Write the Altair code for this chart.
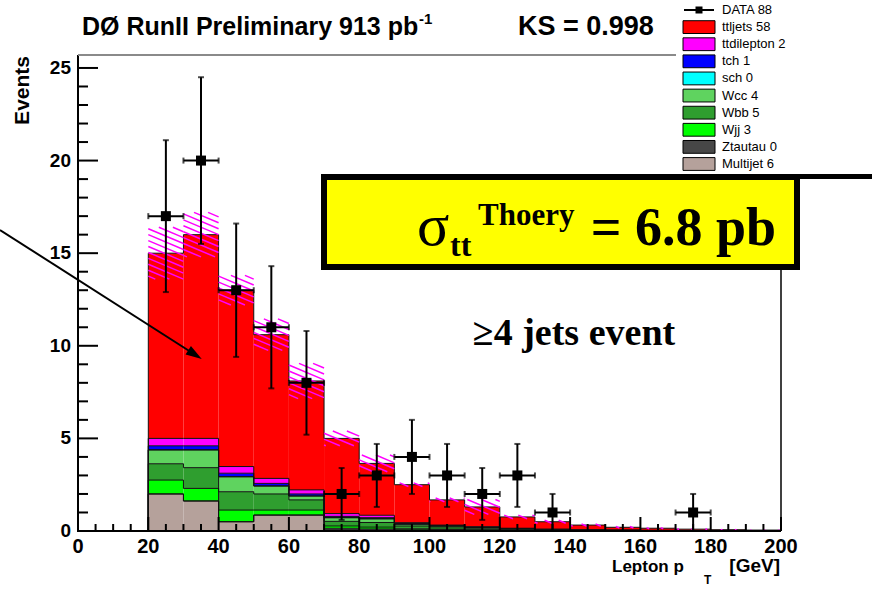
import altair as alt
import pandas as pd
import numpy as np

# ---------------- data ----------------
bin_lo = [20, 30, 40, 50, 60, 70, 80, 90, 100, 110, 120, 130, 140, 150, 160, 170, 180, 190]
bin_width = 10

# stack order: bottom -> top
multijet   = [2.00, 1.62, 0.50, 0.86, 0.86, 0.05, 0.03, 0.02, 0.02, 0.01, 0.01, 0.00, 0, 0, 0, 0, 0, 0]
ztautau    = [0.00, 0.00, 0.00, 0.00, 0.00, 0.10, 0.08, 0.05, 0.05, 0.03, 0.02, 0.01, 0, 0, 0, 0, 0, 0]
wjj        = [0.75, 0.68, 0.63, 0.27, 0.27, 0.12, 0.10, 0.05, 0.03, 0.03, 0.02, 0.01, 0, 0, 0, 0, 0, 0]
wbb        = [0.88, 1.12, 0.99, 0.87, 0.55, 0.25, 0.25, 0.15, 0.12, 0.08, 0.05, 0.04, 0.05, 0.04, 0.03, 0.02, 0.02, 0.01]
wcc        = [0.75, 0.96, 0.81, 0.43, 0.21, 0.20, 0.20, 0.10, 0.05, 0.04, 0.02, 0.02, 0, 0, 0, 0, 0, 0]
sch        = [0.00] * 18
tch        = [0.22, 0.22, 0.19, 0.14, 0.11, 0.07, 0.06, 0.03, 0.02, 0.02, 0.01, 0.01, 0, 0, 0, 0, 0, 0]
ttdilepton = [0.40, 0.40, 0.36, 0.27, 0.22, 0.15, 0.13, 0.05, 0.03, 0.02, 0.02, 0.01, 0, 0, 0, 0, 0, 0]
ttljets    = [10.0, 11.0, 9.52, 7.76, 5.88, 4.06, 2.80, 2.05, 1.36, 1.07, 0.61, 0.40, 0.27, 0.16, 0.12, 0.08, 0.05, 0.04]

band_err = [1.4, 1.2, 0.8, 0.85, 0.95, 0.4, 0.45, 0.1, 0.1, 0.4, 0.1, 0.08, 0.06, 0.04, 0.03, 0.02, 0.02, 0.01]

data_x = [25, 35, 45, 55, 65, 75, 85, 95, 105, 115, 125, 135, 175]
data_y = [17, 20, 13, 11, 8, 2, 3, 4, 3, 2, 3, 1, 1]
data_err = [4.1, 4.5, 3.6, 3.3, 2.8, 1.4, 1.7, 2.0, 1.7, 1.4, 1.7, 1.0, 1.0]

comp_names = ["Multijet", "Ztautau", "Wjj", "Wbb", "Wcc", "sch", "tch", "ttdilepton", "ttljets"]
comp_values = [multijet, ztautau, wjj, wbb, wcc, sch, tch, ttdilepton, ttljets]
comp_colors = ["#b5a19b", "#474747", "#00ff00", "#2f9e2f", "#5fd35f", "#00ffff", "#0000ff", "#ff00ff", "#ff0000"]

legend_labels = ["DATA 88", "ttljets 58", "ttdilepton 2", "tch 1", "sch 0", "Wcc 4",
                 "Wbb 5", "Wjj 3", "Ztautau 0", "Multijet 6"]
legend_comps = [None, "ttljets", "ttdilepton", "tch", "sch", "Wcc", "Wbb", "Wjj", "Ztautau", "Multijet"]

y_ticks_major = [0, 5, 10, 15, 20, 25]
y_tick_labels = ["0", "5", "10", "15", "20", "25"]
x_ticks_major = [0, 20, 40, 60, 80, 100, 120, 140, 160, 180, 200]
x_tick_labels = ["0", "20", "40", "60", "80", "100", "120", "140", "160", "180", "200"]

# ---------------- layout ----------------
OX, OY = 78, 55           # plot origin in the page
W, H = 703, 476
YMAX = 25.7


def px(xabs):
    return xabs - OX


def py(yabs):
    return yabs - OY


xscale = alt.Scale(domain=[0, 200], nice=False, zero=False)
yscale = alt.Scale(domain=[0, YMAX], nice=False, zero=False)
cscale = alt.Scale(domain=comp_names, range=comp_colors)


def X(f):
    return alt.X(f, scale=xscale, axis=None)


def Y(f):
    return alt.Y(f, scale=yscale, axis=None)


# stacked rectangles
rows = []
cum = np.zeros(len(bin_lo))
for name, vals in zip(comp_names, comp_values):
    v = np.array(vals, dtype=float)
    for i, lo in enumerate(bin_lo):
        rows.append({"comp": name, "x0": lo, "x1": lo + bin_width,
                     "b": cum[i], "t": cum[i] + v[i]})
    cum = cum + v
totals = cum.copy()
rect_df = pd.DataFrame(rows)

# step outlines
line_rows = []
for name in comp_names:
    sub = rect_df[rect_df.comp == name].reset_index(drop=True)
    k = 0
    line_rows.append({"comp": name, "x": bin_lo[0], "y": 0.0, "k": k}); k += 1
    for _, r in sub.iterrows():
        line_rows.append({"comp": name, "x": r.x0, "y": r.t, "k": k}); k += 1
    line_rows.append({"comp": name, "x": bin_lo[-1] + bin_width, "y": sub.t.iloc[-1], "k": k}); k += 1
    line_rows.append({"comp": name, "x": bin_lo[-1] + bin_width, "y": 0.0, "k": k})
line_df = pd.DataFrame(line_rows)

# hatch segments for the uncertainty band
drop, spacing = 0.8, 0.32
hrows = []
for lo_x, tot, e in zip(bin_lo, totals, band_err):
    lo, hi = tot - e, tot + e
    kmin = int(np.floor((lo + drop * lo_x / bin_width) / spacing)) - 1
    kmax = int(np.ceil((hi + drop + drop * lo_x / bin_width) / spacing)) + 1
    for k in range(kmin, kmax + 1):
        s = k * spacing - drop * lo_x / bin_width
        ta = max(0.0, (s - hi) / drop)
        tb = min(1.0, (s - lo) / drop)
        if tb > ta + 0.02:
            hrows.append({"hx1": lo_x + ta * bin_width, "hx2": lo_x + tb * bin_width,
                          "hy1": s - drop * ta, "hy2": s - drop * tb})
hatch_df = pd.DataFrame(hrows)

pts = pd.DataFrame({"x": data_x, "y": data_y, "e": data_err})
pts["ylo"] = (pts.y - pts.e).clip(lower=0)
pts["yhi"] = pts.y + pts.e
pts["xlo"] = pts.x - bin_width / 2
pts["xhi"] = pts.x + bin_width / 2

AX_FONT = "Liberation Sans"

rects = alt.Chart(rect_df).mark_rect(strokeWidth=0).encode(
    x=X("x0:Q"), x2="x1:Q", y=Y("b:Q"), y2="t:Q",
    color=alt.Color("comp:N", scale=cscale, legend=None),
)

outlines = alt.Chart(line_df).mark_line(interpolate="step-after", color="#111111",
                                        strokeWidth=1).encode(
    x=X("x:Q"), y=Y("y:Q"), detail="comp:N", order="k:Q",
)

hatch = alt.Chart(hatch_df).mark_rule(color="#ff00ff", strokeWidth=1.5).encode(
    x=X("hx1:Q"), x2="hx2:Q", y=Y("hy1:Q"), y2="hy2:Q",
)

# axes drawn from the tick arrays
ymaj = pd.DataFrame({"v": y_ticks_major, "lab": y_tick_labels})
ymin = pd.DataFrame({"v": [v for v in range(0, 26) if v % 5 != 0]})
xmaj = pd.DataFrame({"v": x_ticks_major, "lab": x_tick_labels})
xmin = pd.DataFrame({"v": [v for v in range(0, 201, 5) if v % 20 != 0]})

one = pd.DataFrame({"t": [""]})

tick_style = dict(color="black", strokeWidth=2)
t1 = alt.Chart(ymaj).mark_rule(**tick_style).encode(
    y=Y("v:Q"), x=alt.value(0), x2=alt.value(20))
t2 = alt.Chart(ymin).mark_rule(**tick_style).encode(
    y=Y("v:Q"), x=alt.value(0), x2=alt.value(10))
t3 = alt.Chart(xmaj).mark_rule(**tick_style).encode(
    x=X("v:Q"), y=alt.value(H), y2=alt.value(H - 14))
t4 = alt.Chart(xmin).mark_rule(**tick_style).encode(
    x=X("v:Q"), y=alt.value(H), y2=alt.value(H - 7))
ylab = alt.Chart(ymaj).mark_text(font=AX_FONT, fontSize=19, fontWeight="bold", align="right",
                                 baseline="middle", color="black").encode(
    y=Y("v:Q"), x=alt.value(px(71)), text="lab:N")
xlab = alt.Chart(xmaj).mark_text(font=AX_FONT, fontSize=20, fontWeight="bold", align="center",
                                 baseline="alphabetic", color="black").encode(
    x=X("v:Q"), y=alt.value(py(553)), text="lab:N")
left_dom = alt.Chart(one).mark_rule(color="black", strokeWidth=2).encode(
    x=alt.value(0), y=alt.value(0), y2=alt.value(H + 1))
bot_dom = alt.Chart(one).mark_rule(color="black", strokeWidth=2).encode(
    x=alt.value(-1), x2=alt.value(W), y=alt.value(H))

# data points with error bars
vbar = alt.Chart(pts).mark_rule(color="black", strokeWidth=2).encode(
    x=X("x:Q"), y=Y("ylo:Q"), y2="yhi:Q")
hbar = alt.Chart(pts).mark_rule(color="black", strokeWidth=2).encode(
    x=X("xlo:Q"), x2="xhi:Q", y=Y("y:Q"))
cap_top = alt.Chart(pts).mark_tick(orient="horizontal", size=6, thickness=2, color="black").encode(
    x=X("x:Q"), y=Y("yhi:Q"))
cap_bot = alt.Chart(pts).mark_tick(orient="horizontal", size=6, thickness=2, color="black").encode(
    x=X("x:Q"), y=Y("ylo:Q"))
cap_l = alt.Chart(pts).mark_tick(orient="vertical", size=6, thickness=2, color="black").encode(
    x=X("xlo:Q"), y=Y("y:Q"))
cap_r = alt.Chart(pts).mark_tick(orient="vertical", size=6, thickness=2, color="black").encode(
    x=X("xhi:Q"), y=Y("y:Q"))
markers = alt.Chart(pts).mark_square(size=100, color="black", opacity=1).encode(
    x=X("x:Q"), y=Y("y:Q"))

# frame (top grey, right black)
frame_top = alt.Chart(one).mark_rule(color="#8a8a8a", strokeWidth=2).encode(
    x=alt.value(0), x2=alt.value(px(676)), y=alt.value(0))
frame_right = alt.Chart(one).mark_rule(color="black", strokeWidth=1.5).encode(
    x=alt.value(W), y=alt.value(0), y2=alt.value(H))


def txt(text, xabs, yabs, size, font=AX_FONT, weight="bold", align="left",
        baseline="alphabetic", angle=None, color="black"):
    kw = dict(font=font, fontSize=size, fontWeight=weight, align=align,
              baseline=baseline, color=color)
    if angle is not None:
        kw["angle"] = angle
    return alt.Chart(pd.DataFrame({"t": [text]})).mark_text(**kw).encode(
        x=alt.value(px(xabs)), y=alt.value(py(yabs)), text="t:N")


title1 = txt("DØ RunII Preliminary 913 pb", 82, 35, 25)
title_sup = txt("-1", 419, 24, 15)
title_ks = txt("KS = 0.998", 518, 35, 27)
ytitle = txt("Events", 23, 56, 21, align="right", baseline="middle", angle=270)
xtitle1 = txt("Lepton p", 612, 572, 17)
xtitle_sub = txt("T", 704, 584, 12)
xtitle2 = txt("[GeV]", 780, 572, 19, align="right")

# annotation box
box = alt.Chart(one).mark_rect(fill="#ffff00", stroke="black", strokeWidth=6).encode(
    x=alt.value(px(324)), x2=alt.value(px(797)), y=alt.value(py(177)), y2=alt.value(py(267)))
SERIF = "Liberation Serif"
sig = txt("σ", 417, 245, 60, font=SERIF, weight="normal")
sig_sub = txt("tt", 450, 256, 32, font=SERIF)
sig_sup = txt("Thoery", 478, 225, 31, font=SERIF)
sig_val = txt("= 6.8 pb", 776, 245, 54, font=SERIF, align="right")
jets = txt("≥4 jets event", 574, 345, 38, font=SERIF, align="center")

# arrow
ang = float(np.degrees(np.arctan2(359 - 230, 202 - 0)))
arrow_line = alt.Chart(one).mark_rule(color="black", strokeWidth=2).encode(
    x=alt.value(px(0)), x2=alt.value(px(194)), y=alt.value(py(230)), y2=alt.value(py(354)))
arrow_head = alt.Chart(one).mark_point(shape="M1,0L-1,-0.62L-1,0.62Z", size=256, filled=True,
                                       color="black", opacity=1, angle=ang).encode(
    x=alt.value(px(195)), y=alt.value(py(354.6)))

# legend
leg_bg = alt.Chart(one).mark_rect(fill="white", strokeWidth=0).encode(
    x=alt.value(px(676)), x2=alt.value(px(880)), y=alt.value(py(-5)), y2=alt.value(py(174)))
leg_line = alt.Chart(one).mark_rule(color="black", strokeWidth=5).encode(
    x=alt.value(px(676)), x2=alt.value(px(880)), y=alt.value(py(176.5)))

leg_df = pd.DataFrame({"row": list(range(len(legend_labels))), "label": legend_labels,
                       "comp": legend_comps})
leg_y = alt.Y("row:Q", scale=alt.Scale(domain=[0, 9], range=[py(10), py(164)]), axis=None)
leg_sw = alt.Chart(leg_df).transform_filter("datum.row > 0").mark_point(
    shape="M-1,-0.4H1V0.4H-1Z", size=1024, filled=True, stroke="black", strokeWidth=1,
    opacity=1).encode(
    x=alt.value(px(699)), y=leg_y,
    fill=alt.Color("comp:N", scale=cscale, legend=None))
leg_txt = alt.Chart(leg_df).mark_text(font=AX_FONT, fontSize=13, align="left",
                                      baseline="middle", color="black").encode(
    x=alt.value(px(722)), y=leg_y, text="label:N")
leg_data_line = alt.Chart(leg_df).transform_filter("datum.row == 0").mark_rule(
    color="black", strokeWidth=2).encode(x=alt.value(px(684)), x2=alt.value(px(714)), y=leg_y)
leg_data_pt = alt.Chart(leg_df).transform_filter("datum.row == 0").mark_square(
    size=49, color="black", opacity=1).encode(x=alt.value(px(699)), y=leg_y)

main = alt.layer(
    rects, outlines, hatch, t1, t2, t3, t4, left_dom, bot_dom, ylab, xlab,
    vbar, hbar, cap_top, cap_bot, cap_l, cap_r, markers,
    frame_top, frame_right, box, sig, sig_sub, sig_sup, sig_val, jets,
    arrow_line, arrow_head,
    title1, title_sup, title_ks, ytitle, xtitle1, xtitle_sub, xtitle2,
    leg_bg, leg_line,
)
legend = alt.layer(leg_sw, leg_txt, leg_data_line, leg_data_pt)

chart = alt.layer(main, legend).resolve_scale(y="independent").properties(
    width=W, height=H,
    autosize=alt.AutoSizeParams(type="none"),
    padding={"left": OX, "top": OY, "right": 872 - OX - W, "bottom": 591 - OY - H},
    background="white",
).configure_view(stroke=None)

chart.save("out.html", embed_options={"renderer": "svg", "actions": False})
